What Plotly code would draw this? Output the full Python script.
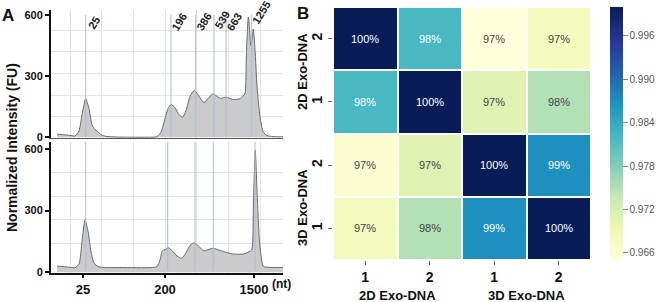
import plotly.graph_objects as go

# ---------------- Panel A data (migration position units, FU) ----------------
top_x = [6, 10, 15, 20, 24, 28, 31, 34.7, 38, 41, 44, 47, 50, 55, 65, 80, 100, 106, 110, 114, 117, 120,
         124, 128, 131.7, 135, 139, 143.3, 148, 153, 158, 162.3, 166, 169.7, 175, 182.3, 189, 192, 194,
         195.5, 197.3, 198.7, 199.7, 201, 202.3, 204, 206, 209, 212.3, 216, 222, 232]
top_y = [15, 13, 11, 8, 6, 30, 110, 188, 140, 60, 38, 25, 12, 4, 1, 0, 0, 3, 25, 90, 140, 160,
         145, 110, 98, 130, 200, 229, 200, 170, 195, 212, 200, 190, 196, 184, 188, 200, 215,
         420, 589, 520, 450, 480, 530, 430, 250, 100, 25, 8, 3, 2]

bot_x = [6, 12, 18, 24, 28, 31, 34, 37, 40, 43, 47, 52, 70, 100, 106, 109, 111.3, 114, 117.3, 121,
         126, 130.7, 135, 139, 143.3, 148, 153, 158, 162.3, 168, 175.7, 182.3, 192.3, 198, 200.7,
         202.5, 204.3, 206, 208.5, 212.3, 218, 232]
bot_y = [30, 28, 25, 22, 40, 150, 255, 200, 100, 45, 28, 24, 23, 23, 28, 60, 104, 110, 120, 105,
         80, 68, 95, 130, 144, 125, 104, 112, 117, 108, 96, 89, 89, 100, 109,
         350, 595, 400, 150, 30, 24, 24]

top_marker_pos = [34.7, 120, 144.7, 163, 175, 200.7]
top_marker_lab = ["25", "196", "386", "539", "663", "1255"]
bot_marker_pos = [34.7, 116.7, 144, 162.3, 204]

x_tick_pos = [32, 114, 203]
x_tick_lab = ["25", "200", "1500"]
y_tick_vals = [0, 300, 600]

# ---------------- Panel B data ----------------
hm_cols = ["1", "2", "1", "2"]
hm_rows = ["2", "1", "2", "1"]
hm_groups = ["2D Exo-DNA", "3D Exo-DNA"]
hm_z = [
    [1.000, 0.982, 0.965, 0.968],
    [0.982, 1.000, 0.971, 0.975],
    [0.966, 0.971, 1.000, 0.987],
    [0.968, 0.975, 0.987, 1.000],
]
hm_text = [
    ["100%", "98%", "97%", "97%"],
    ["98%", "100%", "97%", "98%"],
    ["97%", "97%", "100%", "99%"],
    ["97%", "98%", "99%", "100%"],
]
cb_ticks = [0.966, 0.972, 0.978, 0.984, 0.990, 0.996]

FONT = "Liberation Sans, Arial, sans-serif"
W, H = 658, 302

ylgnbu = [[0.0, "#ffffd9"], [0.125, "#edf8b1"], [0.25, "#c7e9b4"], [0.375, "#7fcdbb"],
          [0.5, "#41b6c4"], [0.625, "#1d91c0"], [0.75, "#225ea8"], [0.875, "#253494"],
          [1.0, "#081d58"]]

fig = go.Figure()

curve_style = dict(mode="lines", line=dict(color="#6a6a6a", width=1, shape="spline", smoothing=0.6),
                   fill="tozeroy", fillcolor="#cbcbcb", hoverinfo="skip", showlegend=False)
fig.add_trace(go.Scatter(x=top_x, y=top_y, xaxis="x", yaxis="y", **curve_style))
fig.add_trace(go.Scatter(x=bot_x, y=bot_y, xaxis="x2", yaxis="y2", **curve_style))

fig.add_trace(go.Heatmap(
    z=hm_z, x=[0, 1, 2, 3], y=[0, 1, 2, 3], xaxis="x3", yaxis="y3",
    colorscale=ylgnbu, zmin=0.965, zmax=1.0, xgap=2, ygap=2,
    colorbar=dict(x=610 / W, xanchor="left", y=1 - 133.5 / H, yanchor="middle", xpad=0, ypad=0,
                  len=253 / H, lenmode="fraction", thickness=13, outlinewidth=0,
                  tickvals=cb_ticks, ticktext=[f"{v:.3f}" for v in cb_ticks],
                  ticks="outside", ticklen=5, tickcolor="#888",
                  tickfont=dict(size=10, color="#555", family=FONT)),
    hoverinfo="skip"))

shapes = []
for p in top_marker_pos:
    shapes.append(dict(type="line", xref="x", yref="y", x0=p, x1=p, y0=0, y1=600,
                       line=dict(color="#a9bdd8", width=1), layer="above"))
for p in bot_marker_pos:
    shapes.append(dict(type="line", xref="x2", yref="y2 domain", x0=p, x1=p, y0=0.02, y1=1,
                       line=dict(color="#a9bdd8", width=1), layer="above"))

C = dict(xanchor="center", yanchor="middle", showarrow=False)

annotations = []
lab_dx = [8, 8, 8, 8, 8, 9]
lab_y = [560, 565, 565, 575, 565, 610]
for p, t, dx, yy in zip(top_marker_pos, top_marker_lab, lab_dx, lab_y):
    annotations.append(dict(x=p + dx, y=yy, xref="x", yref="y", text=f"<b>{t}</b>",
                            textangle=-58, font=dict(size=11, color="#222", family=FONT), **C))

for i, row in enumerate(hm_z):
    for j, v in enumerate(row):
        annotations.append(dict(x=j, y=i, xref="x3", yref="y3", text=hm_text[i][j],
                                font=dict(size=11, family=FONT,
                                          color="#ffffff" if v > 0.978 else "#444444"), **C))

label_font = dict(size=13, color="#111", family=FONT)
for k, g in enumerate(hm_groups):
    annotations.append(dict(x=2 * k + 0.5, y=1 - 295 / H, xref="x3", yref="paper", text=f"<b>{g}</b>",
                            font=label_font, **C))
row_label_y = [72, 208]
for g, yy in zip(hm_groups, row_label_y):
    annotations.append(dict(x=302 / W, y=1 - yy / H, xref="paper", yref="paper", text=f"<b>{g}</b>",
                            textangle=-90, font=label_font, **C))

annotations += [
    dict(x=8 / W, y=1 - 15 / H, xref="paper", yref="paper", text="<b>A</b>",
         font=dict(size=17, color="#111", family=FONT), **C),
    dict(x=303 / W, y=1 - 13 / H, xref="paper", yref="paper", text="<b>B</b>",
         font=dict(size=17, color="#111", family=FONT), **C),
    dict(x=12 / W, y=1 - 148 / H, xref="paper", yref="paper", text="<b>Normalized Intensity (FU)</b>",
         textangle=-90, font=dict(size=14, color="#111", family=FONT), **C),
    dict(x=281 / W, y=1 - 284 / H, xref="paper", yref="paper", text="<b>(nt)</b>",
         font=dict(size=12, color="#111", family=FONT), **C),
]

xgrid = [19, 50.7, 82.3, 114, 145.7, 177.3, 209]
axis_font = dict(size=11, color="#111", family=FONT)

fig.update_layout(
    width=W, height=H, margin=dict(l=0, r=0, t=0, b=0, autoexpand=False),
    paper_bgcolor="white", plot_bgcolor="white",
    font=dict(family=FONT),
    shapes=shapes, annotations=annotations, showlegend=False,
    xaxis=dict(domain=[51 / W, 283 / W], range=[0, 232], anchor="y", showticklabels=False,
               showgrid=False, zeroline=False, showline=True, linecolor="#555", linewidth=1,
               ticks="", minor=dict(tickvals=xgrid, showgrid=True, gridcolor="#e2e2e2", ticks="")),
    yaxis=dict(domain=[1 - 138 / H, 1 - 10 / H], range=[-4, 623], anchor="x",
               tickvals=y_tick_vals, ticktext=[f"<b>{v}</b>" for v in y_tick_vals],
               tickfont=axis_font, ticks="outside", ticklen=4, tickwidth=1.5, tickcolor="#111",
               showline=True, linecolor="#111", linewidth=2, showgrid=False, zeroline=False,
               minor=dict(tickvals=[100, 206, 312, 418, 524], showgrid=True, gridcolor="#e2e2e2", ticks="")),
    xaxis2=dict(domain=[51 / W, 283 / W], range=[0, 232], anchor="y2",
                tickvals=x_tick_pos, ticktext=[f"<b>{t}</b>" for t in x_tick_lab],
                tickfont=dict(size=13, color="#111", family=FONT),
                ticks="outside", ticklen=3, tickwidth=1.5, tickcolor="#111",
                showline=True, linecolor="#111", linewidth=2, showgrid=False, zeroline=False,
                minor=dict(tickvals=xgrid, showgrid=True, gridcolor="#e2e2e2", ticks="")),
    yaxis2=dict(domain=[1 - 273 / H, 1 - 142 / H], range=[-3.4, 634], anchor="x2",
                tickvals=y_tick_vals, ticktext=[f"<b>{v}</b>" for v in y_tick_vals],
                tickfont=axis_font, ticks="outside", ticklen=4, tickwidth=1.5, tickcolor="#111",
                showline=True, linecolor="#111", linewidth=2, showgrid=False, zeroline=False,
                minor=dict(tickvals=[141, 256, 370, 488], showgrid=True, gridcolor="#e2e2e2", ticks="")),
    xaxis3=dict(domain=[333 / W, 591 / W], range=[-0.5, 3.5], anchor="y3",
                tickvals=[0, 1, 2, 3], ticktext=[f"<b>{t}</b>" for t in hm_cols],
                tickfont=dict(size=14, color="#111", family=FONT),
                ticks="outside", ticklen=4, tickcolor="#666", showgrid=False, zeroline=False,
                showline=False),
    yaxis3=dict(domain=[1 - 260 / H, 1 - 7 / H], range=[3.5, -0.5], anchor="x3",
                tickvals=[0, 1, 2, 3], ticktext=[f"<b>{t}</b>" for t in hm_rows],
                tickfont=dict(size=14, color="#111", family=FONT), tickangle=-90,
                ticks="outside", ticklen=4, tickcolor="#666", showgrid=False, zeroline=False,
                showline=False),
)

fig.write_html("out.html", config={"displayModeBar": False},
               post_script="document.body.style.margin='0';")
